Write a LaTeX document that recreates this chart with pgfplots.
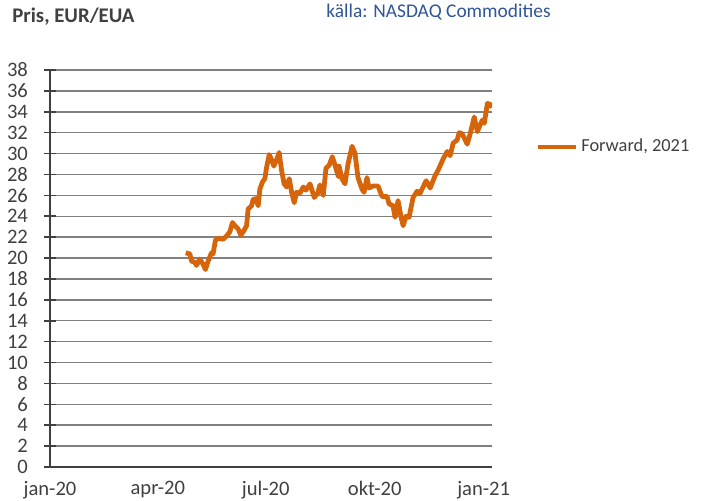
\documentclass[border=0pt]{standalone}
\usepackage{pgfplots}
\pgfplotsset{compat=1.18}
\usepackage{fontspec}
\setmainfont{Carlito}
\definecolor{lineor}{RGB}{214,100,10}
\definecolor{txtgrey}{RGB}{64,64,64}
\definecolor{gridgrey}{RGB}{128,128,128}
\definecolor{srcblue}{RGB}{47,85,151}
\begin{document}
\begin{tikzpicture}
\useasboundingbox (-25pt,-17pt) rectangle (325.5pt,233.5pt);
\begin{axis}[
  scale only axis, width=221pt, height=198.5pt,
  xmin=0, xmax=373, ymin=0, ymax=38,
  ytick={0,2,...,38},
  xtick={0,91,182,274,366},
  xticklabels={jan-20,apr-20,jul-20,okt-20,jan-21},
  axis x line*=bottom, axis y line*=left,
  axis line style={txtgrey, line width=1pt},
  ymajorgrids,
  grid style={gridgrey, line width=0.75pt},
  tick label style={font=\fontsize{10.3}{11}\selectfont, text=txtgrey},
  yticklabel style={xshift=-4.5pt},
  xticklabel style={yshift=-0.5pt},
  /pgf/number format/assume math mode=true,
  xtick style={draw=none},
  ytick style={txtgrey, line width=0.8pt},
  tick align=center, major tick length=6pt,
  legend style={at={(1.084,0.806)}, anchor=west, draw=none, fill=none,
    font=\fontsize{9.2}{10}\selectfont, text=txtgrey, nodes={inner sep=1.5pt}},
  legend cell align=left,
  legend image code/.code={\draw[#1] (0pt,0pt) -- (19pt,0pt);},
]
\addplot[lineor, line width=2.4pt, line join=round, no marks] coordinates {
(114.5,20.5) (118,20.4) (119.4,19.7) (122.1,19.6) (123.6,19.3) (126.4,19.9)
(129.2,19.4) (131.2,18.9) (133.4,19.7) (136.3,20.5) (137.6,20.4) (139.6,21.7)
(141.8,21.9) (146.1,21.8) (148.9,22.1) (151.7,22.5) (154,23.4) (156,23.1)
(158.7,22.8) (161,22.2) (163,22.5) (165.9,23.1) (167.2,24.7) (170.1,25.0)
(171.4,25.6) (173.7,25.7) (175.7,25.0) (177.1,26.6) (179.4,27.3) (181.3,27.6)
(182.8,28.7) (185,29.9) (187,29.4) (188.9,28.8) (191.2,29.4) (193.4,30.1)
(195.4,28.4) (197.6,27.1) (199.7,26.8) (201.9,27.6) (203.9,26.3) (206.1,25.3)
(208.1,26.3) (210.9,26.2) (213.7,26.8) (216,26.5) (219.4,27.1) (220.8,26.6)
(223,25.8) (225.9,26.2) (227.8,27.0) (230.6,26.0) (232.9,28.6) (235.7,28.9)
(238.2,29.7) (240.5,28.9) (243.3,27.8) (243.9,28.8) (246.4,27.6) (248.9,27.1)
(251.5,29.0) (254.9,30.7) (257.4,30.0) (259.9,27.7) (263.3,26.6) (265,26.3)
(267.5,27.7) (269.2,26.7) (272.6,26.9) (276.8,26.9) (280.2,25.9) (284.4,25.9)
(286.1,25.2) (289.5,25.0) (291.2,23.9) (293.7,25.5) (296.3,23.9) (298,23.1)
(300.5,24.0) (303,23.9) (306.4,25.8) (309.8,26.4) (312.3,26.2) (314,26.6)
(317.4,27.4) (320.8,26.7) (325,27.9) (327.5,28.4) (331.8,29.5) (335.2,30.2)
(337.7,29.8) (340.2,31.0) (343.6,31.3) (345.3,32.0) (347.8,31.9) (352.1,30.9)
(354.6,31.9) (358,33.5) (360.6,32.1) (364.8,33.2) (366.5,32.9) (369.1,34.8)
(371.6,34.7) (373,34.4)
};
\addlegendentry{Forward, 2021}
\end{axis}
\node[anchor=west, font=\bfseries\fontsize{10.4}{12}\selectfont, text=txtgrey, inner sep=0pt] at (-19pt,225pt) {Pris, EUR/EUA};
\node[anchor=west, font=\fontsize{9.7}{11}\selectfont, text=srcblue, inner sep=0pt] at (138pt,227.5pt) {källa: NASDAQ Commodities};
\end{tikzpicture}
\end{document}
